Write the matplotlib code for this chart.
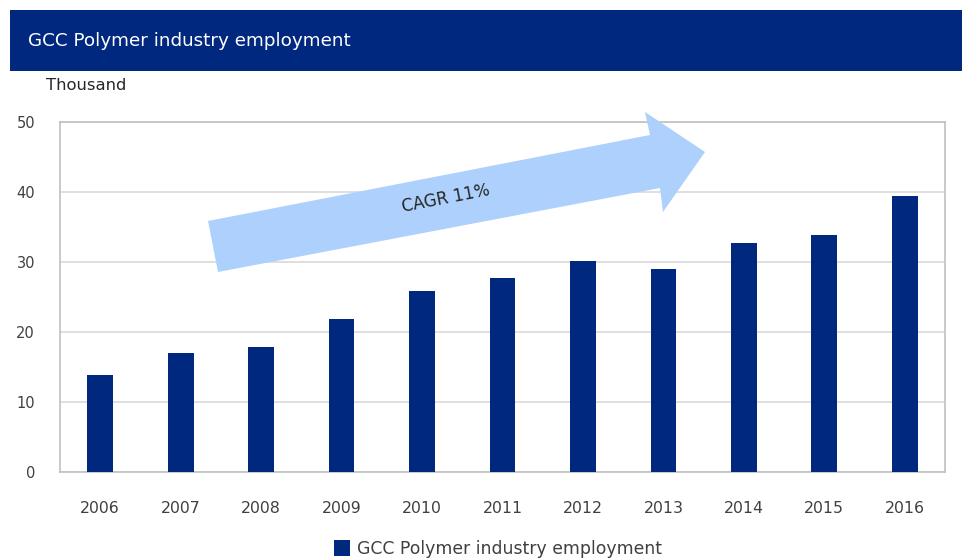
import matplotlib
matplotlib.use("Agg")
import matplotlib.pyplot as plt
from matplotlib.patches import Polygon, Rectangle

years = ["2006", "2007", "2008", "2009", "2010", "2011", "2012", "2013", "2014", "2015", "2016"]
employment = [13.8, 17.0, 17.8, 21.8, 25.8, 27.6, 30.1, 29.0, 32.7, 33.8, 39.3]
title = "GCC Polymer industry employment"
series_name = "GCC Polymer industry employment"
unit = "Thousand"
cagr_label = "CAGR 11%"

NAVY = "#00287f"
ARROW = "#add1fc"
GRID = "#d9d9d9"

plt.rcParams["font.family"] = ["DejaVu Sans"]

W, H = 964, 560
fig = plt.figure(figsize=(W / 100, H / 100), dpi=100)

def fx(px):
    return px / W

def fy(py):
    return 1 - py / H

# header bar
fig.patches.append(Rectangle((fx(10), fy(71)), fx(952), 61 / H, transform=fig.transFigure,
                             facecolor=NAVY, edgecolor="none", zorder=0))
fig.text(fx(28), fy(41), title, color="white", fontsize=13.2, va="center", ha="left")
fig.text(fx(46), fy(86), unit, color="#262626", fontsize=11.8, va="center", ha="left")

ax = fig.add_axes([fx(60), fy(471.5), 885 / W, 350 / H])
x = range(len(years))
bars = ax.bar(x, employment, width=0.32, color=NAVY, zorder=3, label=series_name)

ax.set_xlim(-0.5, len(years) - 0.5)
ax.set_ylim(0, 50)
ax.set_yticks([0, 10, 20, 30, 40, 50])
ax.set_xticks(list(x))
ax.set_xticklabels(years)
ax.yaxis.grid(True, color=GRID, linewidth=1.2, zorder=0)
ax.set_axisbelow(True)
for side in ["left", "right", "top", "bottom"]:
    ax.spines[side].set_color("#c0c0c0")
    ax.spines[side].set_linewidth(1.2)
ax.tick_params(axis="both", length=0, colors="#404040")
ax.tick_params(axis="x", pad=21, labelsize=11.3)
ax.tick_params(axis="y", pad=18, labelsize=10.5)

# growth arrow (drawn in pixel space of the figure)
arrow_px = [(208, 221), (650, 135), (645, 112), (705, 152), (663, 212), (660, 188), (218, 272)]
fig.patches.append(Polygon([(fx(a), fy(b)) for a, b in arrow_px], closed=True,
                           transform=fig.transFigure, facecolor=ARROW, edgecolor="none", zorder=5))
fig.text(fx(446), fy(199), cagr_label, rotation=11, fontsize=12, color="#262626",
         ha="center", va="center", zorder=6)

fig.legend(handles=[bars], labels=[series_name], loc="center", bbox_to_anchor=(fx(498), fy(549)),
           frameon=False, fontsize=12.4, handlelength=0.9, handleheight=1.0, handletextpad=0.4,
           labelcolor="#404040")

fig.savefig("out.png", dpi=100)
